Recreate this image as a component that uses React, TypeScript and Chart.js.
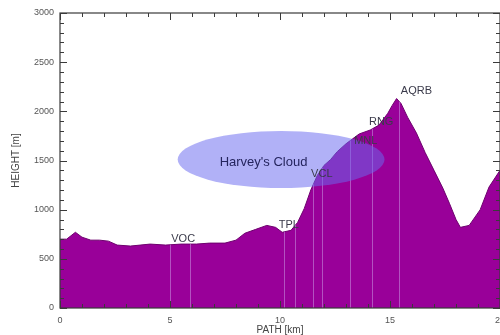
import React, { useEffect, useRef } from "react";
import { Chart, registerables } from "chart.js";

Chart.register(...registerables);

// Terrain profile along the path
const pathKm = [
  0, 0.3, 0.7, 1.0, 1.4, 1.8, 2.2, 2.6, 3.2, 4.1, 4.8, 5.5, 6.2, 6.8, 7.5, 8.0,
  8.4, 8.9, 9.4, 9.8, 10.1, 10.5, 10.8, 11.1, 11.4, 11.7, 12.0, 12.3, 12.6,
  13.0, 13.3, 13.6, 14.1, 14.5, 14.9, 15.1, 15.3, 15.5, 15.8, 16.2, 16.6, 17.0,
  17.4, 17.7, 18.0, 18.2, 18.6, 19.1, 19.5, 20.0,
];
const heightM = [
  700, 700, 770, 720, 690, 690, 680, 640, 630, 650, 640, 650, 650, 660, 660, 690,
  760, 800, 840, 820, 770, 790, 870, 1010, 1200, 1350, 1450, 1510, 1590,
  1670, 1720, 1770, 1810, 1860, 1980, 2060, 2130, 2080, 1940, 1780, 1580, 1400,
  1220, 1065, 900, 820, 840, 1000, 1230, 1400,
];

const xTicks = [0, 5, 10, 15, 20];
const yTicks = [0, 500, 1000, 1500, 2000, 2500, 3000];
const xMinorStepKm = 1;
const yMinorStepM = 100;

// Station marker lines and labels
const stationLinesKm = [5.0, 5.9, 10.2, 10.7, 11.5, 11.9, 13.2, 14.2, 15.4];
const stationNames = ["VOC", "TPL", "VCL", "MNL", "RNG", "AQRB"];
const stationLabelKm = [5.6, 10.4, 11.9, 13.9, 14.6, 16.2];
const stationLabelM = [700, 840, 1360, 1700, 1890, 2210];

// Cloud annotation
const cloudLabel = "Harvey's Cloud";
const cloudCenterKm = 10.05;
const cloudCenterM = 1510;
const cloudRadiusKm = 4.7;
const cloudRadiusM = 290;
const cloudLabelKm = 9.25;
const cloudLabelM = 1480;

const xTitle = "PATH [km]";
const yTitle = "HEIGHT [m]";

const FONT = "'Liberation Sans', Arial, sans-serif";

const overlayPlugin = {
  id: "overlay",
  afterDatasetsDraw(chart: any) {
    const { ctx, chartArea } = chart;
    const xs = chart.scales.x;
    const ys = chart.scales.y;
    const meta = chart.getDatasetMeta(0);
    const pts = meta.data;
    const bottom = chartArea.bottom;

    // station lines clipped to the terrain fill
    ctx.save();
    ctx.beginPath();
    ctx.moveTo(pts[0].x, bottom);
    pts.forEach((p: any) => ctx.lineTo(p.x, p.y));
    ctx.lineTo(pts[pts.length - 1].x, bottom);
    ctx.closePath();
    ctx.clip();
    ctx.strokeStyle = "rgba(200,150,225,0.55)";
    ctx.lineWidth = 1;
    stationLinesKm.forEach((k) => {
      const x = Math.round(xs.getPixelForValue(k)) + 0.5;
      ctx.beginPath();
      ctx.moveTo(x, bottom);
      ctx.lineTo(x, chartArea.top);
      ctx.stroke();
    });
    ctx.restore();

    // cloud ellipse
    const cx = xs.getPixelForValue(cloudCenterKm);
    const cy = ys.getPixelForValue(cloudCenterM);
    const rx = Math.abs(xs.getPixelForValue(cloudCenterKm + cloudRadiusKm) - cx);
    const ry = Math.abs(ys.getPixelForValue(cloudCenterM + cloudRadiusM) - cy);
    ctx.save();
    ctx.fillStyle = "rgba(105,105,240,0.52)";
    ctx.beginPath();
    ctx.ellipse(cx, cy, rx, ry, 0, 0, Math.PI * 2);
    ctx.fill();
    ctx.restore();

    // station labels
    ctx.save();
    ctx.font = `11px ${FONT}`;
    ctx.fillStyle = "#3a3a4a";
    ctx.textAlign = "center";
    ctx.textBaseline = "middle";
    stationNames.forEach((n, i) => {
      ctx.fillText(n, xs.getPixelForValue(stationLabelKm[i]), ys.getPixelForValue(stationLabelM[i]));
    });
    // cloud label
    ctx.font = `13px ${FONT}`;
    ctx.fillStyle = "#25255e";
    ctx.fillText(cloudLabel, xs.getPixelForValue(cloudLabelKm), ys.getPixelForValue(cloudLabelM));
    ctx.restore();
  },
  afterDraw(chart: any) {
    const { ctx, chartArea } = chart;
    const xs = chart.scales.x;
    const ys = chart.scales.y;
    const { left, right, top, bottom } = chartArea;
    ctx.save();
    ctx.strokeStyle = "#3a3a3a";
    ctx.lineWidth = 1.2;
    ctx.strokeRect(left, top, right - left, bottom - top);
    ctx.lineWidth = 1;
    ctx.beginPath();
    for (let k = xs.min; k <= xs.max + 1e-9; k += xMinorStepKm) {
      const x = Math.round(xs.getPixelForValue(k)) + 0.5;
      const len = Math.abs(k % 5) < 1e-9 ? 7 : 4;
      ctx.moveTo(x, bottom);
      ctx.lineTo(x, bottom - len);
      ctx.moveTo(x, top);
      ctx.lineTo(x, top + len);
    }
    for (let m = ys.min; m <= ys.max + 1e-9; m += yMinorStepM) {
      const y = Math.round(ys.getPixelForValue(m)) + 0.5;
      const len = m % 500 === 0 ? 7 : 4;
      ctx.moveTo(left, y);
      ctx.lineTo(left + len, y);
      ctx.moveTo(right, y);
      ctx.lineTo(right - len, y);
    }
    ctx.stroke();

    // axis titles
    ctx.fillStyle = "#444";
    ctx.font = `10px ${FONT}`;
    ctx.textAlign = "center";
    ctx.textBaseline = "middle";
    ctx.fillText(xTitle, (left + right) / 2, 330);
    ctx.translate(16, (top + bottom) / 2);
    ctx.rotate(-Math.PI / 2);
    ctx.fillText(yTitle, 0, 0);
    ctx.restore();
  },
};

export default function App() {
  const ref = useRef<HTMLCanvasElement | null>(null);
  useEffect(() => {
    document.body.style.margin = "0";
    document.body.style.overflow = "hidden";
    const canvas = ref.current;
    if (!canvas) return;
    const data = pathKm.map((x, i) => ({ x, y: heightM[i] }));
    const chart = new Chart(canvas, {
      type: "line",
      data: {
        datasets: [
          {
            data,
            fill: "origin",
            backgroundColor: "#990099",
            borderColor: "#6e006e",
            borderWidth: 1,
            pointRadius: 0,
            tension: 0,
          },
        ],
      },
      options: {
        responsive: false,
        animation: false,
        events: [],
        layout: { padding: { left: 0, right: 0, top: 13, bottom: 0 } },
        plugins: { legend: { display: false }, tooltip: { enabled: false }, title: { display: false } },
        scales: {
          x: {
            type: "linear",
            min: 0,
            max: 20,
            grid: { display: false, drawTicks: false },
            border: { display: false },
            afterBuildTicks: (s: any) => {
              s.ticks = xTicks.map((v) => ({ value: v }));
            },
            ticks: {
              padding: 7,
              color: "#555",
              font: { size: 9, family: FONT },
              maxRotation: 0,
              autoSkip: false,
              callback: (v: any) => String(v),
            },
            afterFit: (s: any) => {
              s.height = 27;
              s.paddingLeft = 0;
              s.paddingRight = 0;
            },
          },
          y: {
            min: 0,
            max: 3000,
            grid: { display: false, drawTicks: false },
            border: { display: false },
            afterBuildTicks: (s: any) => {
              s.ticks = yTicks.map((v) => ({ value: v }));
            },
            ticks: {
              padding: 6,
              color: "#555",
              font: { size: 9, family: FONT },
              autoSkip: false,
              callback: (v: any) => String(v),
            },
            afterFit: (s: any) => {
              s.width = 60;
              s.paddingTop = 0;
              s.paddingBottom = 0;
            },
          },
        },
      },
      plugins: [overlayPlugin],
    });
    return () => chart.destroy();
  }, []);
  return (
    <div style={{ width: 500, height: 335, background: "#fff" }}>
      <canvas ref={ref} width={500} height={335} />
    </div>
  );
}
